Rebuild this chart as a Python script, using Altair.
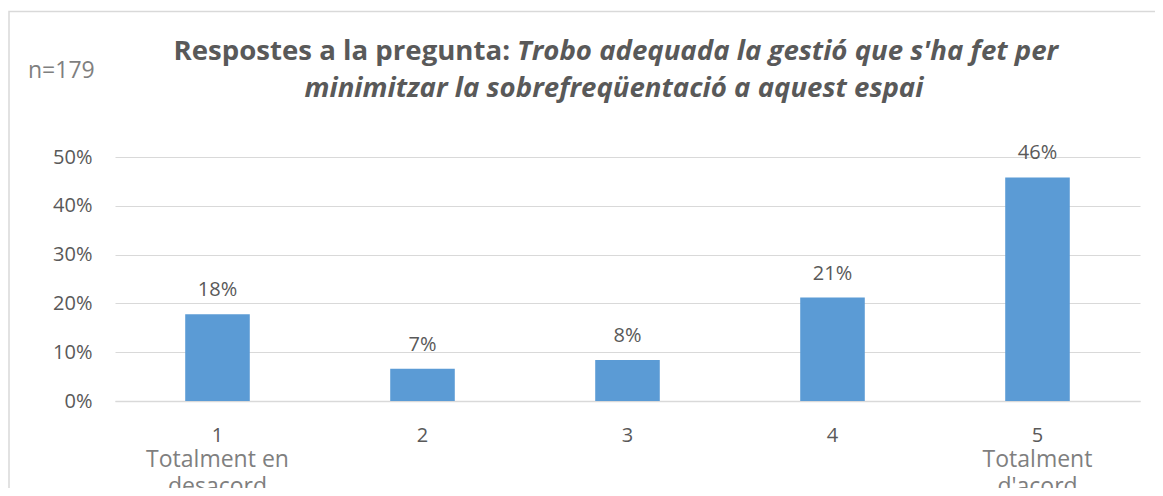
import altair as alt
import pandas as pd

categories = ["1", "2", "3", "4", "5"]
values = [0.178, 0.066, 0.084, 0.212, 0.458]
descriptions = ["Totalment en\ndesacord", "", "", "", "Totalment\nd'acord"]
y_ticks = [0, 0.1, 0.2, 0.3, 0.4, 0.5]

title_bold = "Respostes a la pregunta:"
title_italic_1 = "Trobo adequada la gestió que s'ha fet per"
title_italic_2 = "minimitzar la sobrefreqüentació a aquest espai"
sample_note = "n=179"

FONT = "Open Sans"
GREY = "#595959"
LIGHT = "#7f7f7f"
TITLE_SIZE = 27.6

df = pd.DataFrame({"cat": categories, "val": values, "desc": descriptions})

x = alt.X("cat:N", sort=categories,
          scale=alt.Scale(paddingInner=0.685, paddingOuter=0.3425),
          axis=alt.Axis(title=None, labelAngle=0, ticks=False, domainColor="#d9d9d9",
                        domainWidth=1.5,
                        labelFont=FONT, labelFontSize=20, labelColor=GREY,
                        labelBaseline="alphabetic", labelPadding=40, grid=False))
y = alt.Y("val:Q", scale=alt.Scale(domain=[0, 0.5]),
          axis=alt.Axis(title=None, values=y_ticks, format=".0%", ticks=False, domain=False,
                        labelFont=FONT, labelFontSize=20, labelColor=GREY, labelPadding=23,
                        gridColor="#d9d9d9", gridWidth=1.2))

base = alt.Chart(df)

bars = base.mark_bar(color="#5b9bd5").encode(x=x, y=y)

labels = base.mark_text(font=FONT, fontSize=20, color=GREY, baseline="alphabetic", dy=-18).encode(
    x=alt.X("cat:N", sort=categories), y="val:Q", text=alt.Text("val:Q", format=".0%"))

desc = base.mark_text(font=FONT, fontSize=23, color=LIGHT, baseline="alphabetic",
                      lineBreak="\n", lineHeight=27).encode(
    x=alt.X("cat:N", sort=categories), y=alt.value(310), text="desc:N")

tdf = pd.DataFrame({"t": [title_bold]})
t1 = alt.Chart(tdf).mark_text(font=FONT, fontSize=TITLE_SIZE, fontWeight="bold", color=GREY,
                              align="right", baseline="alphabetic").encode(
    x=alt.value(395), y=alt.value(-97), text="t:N")
t2 = alt.Chart(pd.DataFrame({"t": [title_italic_1]})).mark_text(
    font=FONT, fontSize=TITLE_SIZE, fontWeight="bold", fontStyle="italic", color=GREY,
    align="left", baseline="alphabetic").encode(x=alt.value(402), y=alt.value(-97), text="t:N")
t3 = alt.Chart(pd.DataFrame({"t": [title_italic_2]})).mark_text(
    font=FONT, fontSize=TITLE_SIZE, fontWeight="bold", fontStyle="italic", color=GREY,
    align="center", baseline="alphabetic").encode(x=alt.value(499), y=alt.value(-60), text="t:N")
n_note = alt.Chart(pd.DataFrame({"t": [sample_note]})).mark_text(
    font=FONT, fontSize=23, color=LIGHT, align="left", baseline="alphabetic").encode(
    x=alt.value(-87), y=alt.value(-79), text="t:N")

frame = alt.Chart(pd.DataFrame({"a": [0]})).mark_rect(
    fill=None, stroke="#d9d9d9", strokeWidth=1.5).encode(
    x=alt.value(-106), x2=alt.value(1100), y=alt.value(-145.5), y2=alt.value(400))

chart = alt.layer(frame, bars, labels, desc, t1, t2, t3, n_note).properties(
    width=1025, height=244,
    autosize=alt.AutoSizeParams(type="none"),
    padding={"left": 107, "top": 149, "right": 15, "bottom": 87},
    background="white",
).configure_view(stroke=None)

chart.save("out.html", embed_options={"renderer": "svg", "actions": False})
